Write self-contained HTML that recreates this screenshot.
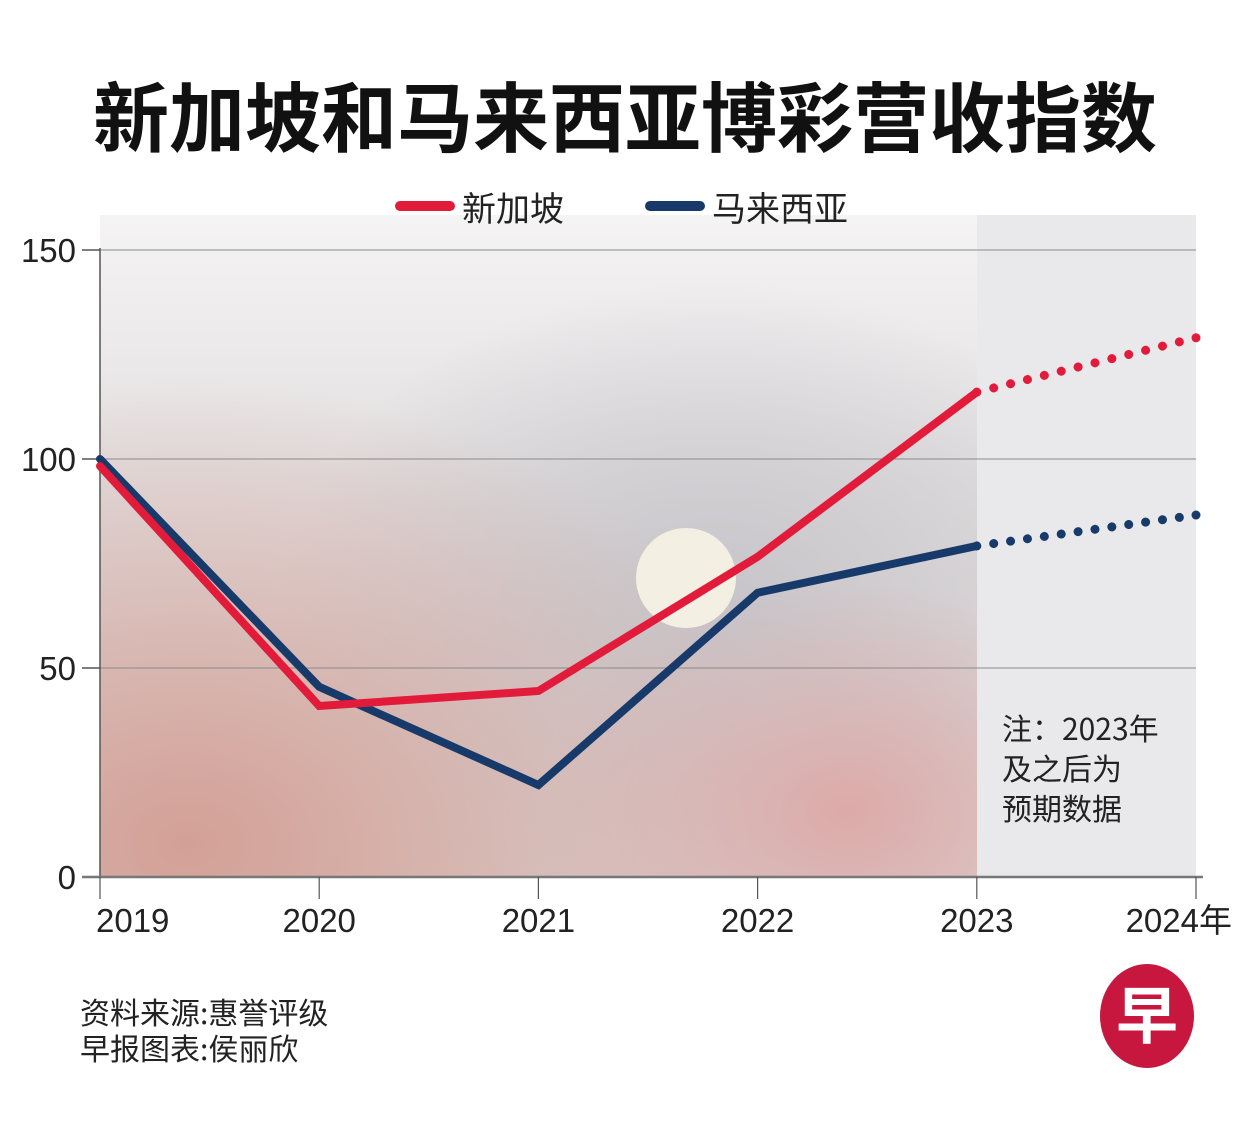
<!DOCTYPE html>
<html><head><meta charset="utf-8">
<style>
html,body{margin:0;padding:0;background:#fff;}
body{width:1251px;height:1116px;overflow:hidden;font-family:"Liberation Sans","Noto Sans CJK SC",sans-serif;}
svg text{font-family:"Liberation Sans","Noto Sans CJK SC",sans-serif;}
</style></head>
<body>
<svg id="chart" width="1251" height="1116" viewBox="0 0 1251 1116" xmlns="http://www.w3.org/2000/svg">
<defs>
<radialGradient id="g1" cx="0.1" cy="0.95" r="0.7">
<stop offset="0" stop-color="#d3a096"/><stop offset="1" stop-color="#d3a096" stop-opacity="0"/></radialGradient>
<radialGradient id="g2" cx="0.7" cy="0.6" r="0.5">
<stop offset="0" stop-color="#c6c4c9"/><stop offset="1" stop-color="#c6c4c9" stop-opacity="0"/></radialGradient>
<radialGradient id="g3" cx="0.85" cy="0.9" r="0.35">
<stop offset="0" stop-color="#dcaaa8"/><stop offset="1" stop-color="#dcaaa8" stop-opacity="0"/></radialGradient>
<linearGradient id="g0" x1="0" y1="0" x2="0" y2="1">
<stop offset="0" stop-color="#f5f4f4"/><stop offset="0.4" stop-color="#e2dfe0"/><stop offset="1" stop-color="#dcd2d1"/></linearGradient>
</defs>
<text x="625" y="146" text-anchor="middle" font-size="76" font-weight="bold" fill="#111" style="font-family:'Noto Sans CJK SC',sans-serif">新加坡和马来西亚博彩营收指数</text>
<g>
<rect x="100" y="215" width="877" height="662" fill="url(#g0)"/>
<rect x="100" y="215" width="877" height="662" fill="url(#g2)"/>
<rect x="100" y="215" width="877" height="662" fill="url(#g1)"/>
<rect x="100" y="215" width="877" height="662" fill="url(#g3)"/>
<circle cx="686" cy="578" r="50" fill="#f4efe3"/>
</g>
<rect x="977" y="215" width="219" height="662" fill="#e9e9eb"/>
<g>
<line x1="400" y1="206" x2="450" y2="206" stroke="#e31b3b" stroke-width="10" stroke-linecap="round"/>
<text x="462" y="221" font-size="34" fill="#222" style="font-family:'Noto Sans CJK SC',sans-serif">新加坡</text>
<line x1="650" y1="206" x2="700" y2="206" stroke="#173a6b" stroke-width="10" stroke-linecap="round"/>
<text x="712" y="221" font-size="34" fill="#222" style="font-family:'Noto Sans CJK SC',sans-serif">马来西亚</text>
</g>
<g id="grid"></g>
<g id="axes"></g>
<g id="series"></g>
<text font-size="30" fill="#222" style="font-family:'Noto Sans CJK SC',sans-serif"><tspan x="1002" y="740">注：2023年</tspan><tspan x="1002" y="780">及之后为</tspan><tspan x="1002" y="820">预期数据</tspan></text>
<text font-size="30" fill="#222" style="font-family:'Noto Sans CJK SC',sans-serif"><tspan x="80" y="1024">资料来源:惠誉评级</tspan><tspan x="80" y="1060">早报图表:侯丽欣</tspan></text>
<g>
<ellipse cx="1147" cy="1016" rx="47" ry="52" fill="#c8173f"/>
<text x="1147" y="1038" text-anchor="middle" font-size="62" fill="#fff" font-weight="bold" style="font-family:'Noto Sans CJK SC',sans-serif">早</text>
</g>
</svg>
<script>
const years = ['2019','2020','2021','2022','2023','2024年'];
const singapore = [98.3, 40.9, 44.5, 76.6, 116, 129];
const malaysia = [100, 45.5, 22, 68, 79.2, 86.6];
const yTicks = [0, 50, 100, 150];
const forecastStart = 4;

const NS = 'http://www.w3.org/2000/svg';
const x = i => 100 + i * 219.2;
const y = v => 877 - v * 4.18;
function mk(tag, attrs, parent){const e=document.createElementNS(NS,tag);for(const k in attrs)e.setAttribute(k,attrs[k]);parent.appendChild(e);return e;}
const grid = document.getElementById('grid'), axes = document.getElementById('axes'), series = document.getElementById('series');

yTicks.forEach(t => {
  if (t > 0) {
    const gl = mk('line',{x1:100,x2:1196,y1:y(t),y2:y(t),stroke:'#8a8a8a','stroke-width':1},grid);
    
    
  }
  const tk = mk('line',{x1:82,x2:100,y1:y(t),y2:y(t),stroke:'#555','stroke-width':1.5},axes);
  
  
  const lb = mk('text',{x:76,y:y(t)+12,'text-anchor':'end','font-size':33,fill:'#222'},axes);
  lb.textContent = t;
  
  
});
const ya = mk('line',{x1:100,x2:100,y1:y(150)-2,y2:y(0),stroke:'#555','stroke-width':1.5},axes);


const xa = mk('line',{x1:82,x2:1203,y1:y(0),y2:y(0),stroke:'#777','stroke-width':2.5},axes);


years.forEach((yr,i) => {
  const tk = mk('line',{x1:x(i),x2:x(i),y1:y(0),y2:y(0)+22,stroke:'#555','stroke-width':1.2},axes);
  
  
  const anchor = i===0 ? 'start' : (i===years.length-1 ? 'end' : 'middle');
  const lx = i===0 ? x(i)-4 : (i===years.length-1 ? x(i)+36 : x(i));
  const lb = mk('text',{x:lx,y:932,'text-anchor':anchor,'font-size':33,fill:'#222'},axes);
  lb.textContent = yr;
  
  
});
function draw(vals,color,name){
  const solid = vals.slice(0,forecastStart+1).map((v,i)=>x(i)+','+y(v)).join(' ');
  const p1 = mk('polyline',{points:solid,fill:'none',stroke:color,'stroke-width':8,'stroke-linejoin':'miter','stroke-linecap':'round'},series);
  
  
  const dash = vals.slice(forecastStart).map((v,j)=>x(j+forecastStart)+','+y(v)).join(' ');
  const p2 = mk('polyline',{points:dash,fill:'none',stroke:color,'stroke-width':9,'pathLength':13,'stroke-dasharray':'0.001 1','stroke-linecap':'round'},series);
  
  
  const last = vals.length-1;
  const c = mk('circle',{cx:x(last),cy:y(vals[last]),r:4.5,fill:color},series);
  
  
}
draw(malaysia,'#173a6b','malaysia');
draw(singapore,'#e31b3b','singapore');
</script>
</body></html>
